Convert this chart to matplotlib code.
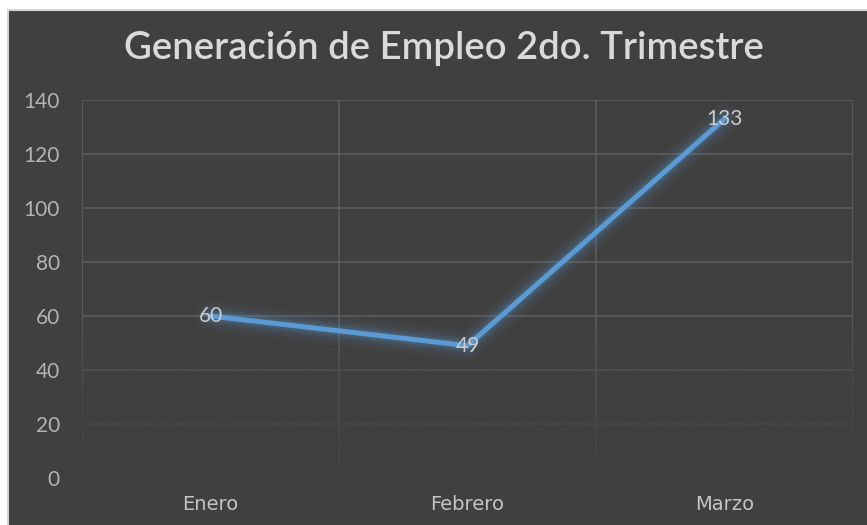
import matplotlib
matplotlib.use('Agg')
import matplotlib.pyplot as plt
from matplotlib.patches import Rectangle
import numpy as np

meses = ['Enero', 'Febrero', 'Marzo']
empleos = [60, 49, 133]
yticks = [0, 20, 40, 60, 80, 100, 120, 140]
titulo = 'Generación de Empleo 2do. Trimestre'

bg = '#404040'
azul = '#5b9bd5'
gris_txt = '#b4b4b4'
gris_grid = '#5c5c5c'

plt.rcParams['font.family'] = ['Lato', 'DejaVu Sans']

fig = plt.figure(figsize=(8.67, 5.25), dpi=100, facecolor='white')
# dark chart area with thin light border, as in the screenshot
fig.patches.append(Rectangle((8 / 867, -0.01), 1 - 8 / 867 + 0.01, 1 - 10 / 525 + 0.01,
                             transform=fig.transFigure, facecolor=bg,
                             edgecolor='#d4d4d4', linewidth=1.5, zorder=-1))

ax = fig.add_axes([82 / 867, 1 - 478 / 525, (853 - 82) / 867, (478 - 100) / 525])
ax.set_facecolor(bg)
ax.patch.set_alpha(0)

x = np.arange(len(meses))

# grid: horizontal at y ticks, vertical at category boundaries
for yv in yticks[1:]:
    ax.axhline(yv, color=gris_grid, lw=1.2, zorder=0.5)
for xv in np.arange(-0.5, len(meses), 1.0):
    ax.axvline(xv, color=gris_grid, lw=1.2, zorder=0.5)

# fade grid toward the bottom
grad = np.linspace(1, 0, 256)
rgba = np.zeros((256, 1, 4))
rgba[..., :3] = matplotlib.colors.to_rgb(bg)
rgba[:, 0, 3] = grad ** 0.8
ax.imshow(rgba, extent=(-0.5, len(meses) - 0.5, 0, 58), aspect='auto',
          origin='lower', zorder=1, interpolation='bilinear')
ax.set_xlim(-0.5, len(meses) - 0.5)
ax.set_ylim(0, 140)

# glowing line
for lw, a in [(22, 0.04), (16, 0.06), (11, 0.10), (7, 0.16)]:
    ax.plot(x, empleos, color=azul, lw=lw, alpha=a, solid_capstyle='round',
            solid_joinstyle='round', zorder=2)
ax.plot(x, empleos, color=azul, lw=3.6, solid_capstyle='round',
        solid_joinstyle='round', zorder=3)

for xi, v in zip(x, empleos):
    ax.text(xi, v, str(v), ha='center', va='center', color='#cccccc',
            fontsize=15, zorder=4)

ax.set_yticks(yticks)
ax.set_yticklabels([str(t) for t in yticks])
ax.set_xticks(x)
ax.set_xticklabels(meses)
ax.tick_params(axis='y', length=0, pad=16, labelsize=15, labelcolor=gris_txt)
ax.tick_params(axis='x', length=0, pad=12, labelsize=14, labelcolor='#c4c4c4')
for lab in ax.get_xticklabels():
    lab.set_fontfamily('DejaVu Sans')
for s in ax.spines.values():
    s.set_visible(False)

fig.text(444 / 867, 1 - 48 / 525, titulo, ha='center', va='center',
         color='#dadada', fontsize=27.5, fontweight='semibold')

plt.savefig('out.png', dpi=100, facecolor='white')
